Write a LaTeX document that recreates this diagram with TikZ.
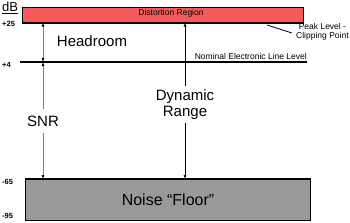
\documentclass[tikz,border=0pt]{standalone}
\usepackage{fontspec}
\setmainfont{Liberation Sans}
\usetikzlibrary{arrows.meta,positioning}
\definecolor{colDist}{HTML}{F65B5B}
\definecolor{colNoise}{HTML}{999999}
\definecolor{colArr}{HTML}{808080}
\tikzset{
  %% level bands
  band/.style={
    draw=black, line width=0.6pt, fill=#1,
    anchor=north west, inner sep=0pt
  },
  %% dB scale numbers
  lvl/.style={font=\bfseries\fontsize{7.5}{8}\selectfont, anchor=west, inner sep=0pt},
  %% big labels
  big/.style={font=\fontsize{15}{16}\selectfont, align=center, inner sep=0pt},
  %% small notes
  note/.style={font=\fontsize{8.5}{9}\selectfont, align=center, inner sep=0pt},
  %% measuring arrows
  dim/.style={-{Latex[length=4pt,width=3pt,color=black]}, line width=0.9pt, draw=#1},
  dim/.default=colArr,
  ddim/.style={{Latex[length=4pt,width=3pt,color=black]}-{Latex[length=4pt,width=3pt,color=black]},
               line width=0.9pt, draw=colArr}
}
\begin{document}
\begin{tikzpicture}[x=1pt, y=-1pt]
\useasboundingbox (0,0) rectangle (350,222);

% scale
\node[font=\fontsize{13}{13}\selectfont, inner sep=0pt, anchor=base west] (db) at (2,12) {dB};
\draw[line width=1pt] ([yshift=-1.5pt]db.south west) -- ([yshift=-1.5pt]db.south east);

% distortion band
\node[band=colDist, minimum width=281pt, minimum height=15pt] (distort) at (22,7) {};
\node[note] (distlbl) at (171,13) {Distortion Region};
\draw[line width=2pt] (distort.south west) -- (distort.south east);

% nominal line
\coordinate (nomL) at (20,62);
\coordinate (nomR) at (307,62);
\draw[line width=1.2pt] (nomL) -- (nomR);
\node[note, anchor=south east, yshift=2.5pt] (nomlbl) at (nomR) {Nominal Electronic Line Level};

% noise floor band
\node[band=colNoise, minimum width=285pt, minimum height=41pt] (noise) at (25,179) {};
\node[big, font=\fontsize{16}{17}\selectfont] (noiselbl) at (168,200) {Noise “Floor”};
\draw[line width=2pt] (noise.north west) -- (noise.north east);

% level numbers
\node[lvl] (l25) at (2,24) {+25};
\node[lvl] (l4)  at (2,65) {+4};
\node[lvl] (l65) at (2,182) {-65};
\node[lvl] (l95) at (2,216) {-95};

% peak note
\node[note, anchor=west] (peak) at (296,32) {Peak Level -\\Clipping Point};
\coordinate (peakpt) at (267,25);
\coordinate (peakend) at (292,33);
\draw[line width=0.8pt] (peakend) -- (peakpt);

% labels
\node[big] (head) at (92,41) {Headroom};
\node[big, inner ysep=6pt] (snr) at (43,121) {SNR};
\node[big, inner ysep=3pt] (dyn) at (185,104.5) {Dynamic\\Range};

% arrows
\draw[ddim] (distort.south -| snr) -- (nomL -| snr);
\draw[dim] (snr.north) -- (nomL -| snr);
\draw[dim] (snr.south) -- (noise.north -| snr);
\draw[dim=black] (dyn.north) -- (distort.south -| dyn);
\draw[dim=black] (dyn.south) -- (noise.north -| dyn);

\end{tikzpicture}
\end{document}
